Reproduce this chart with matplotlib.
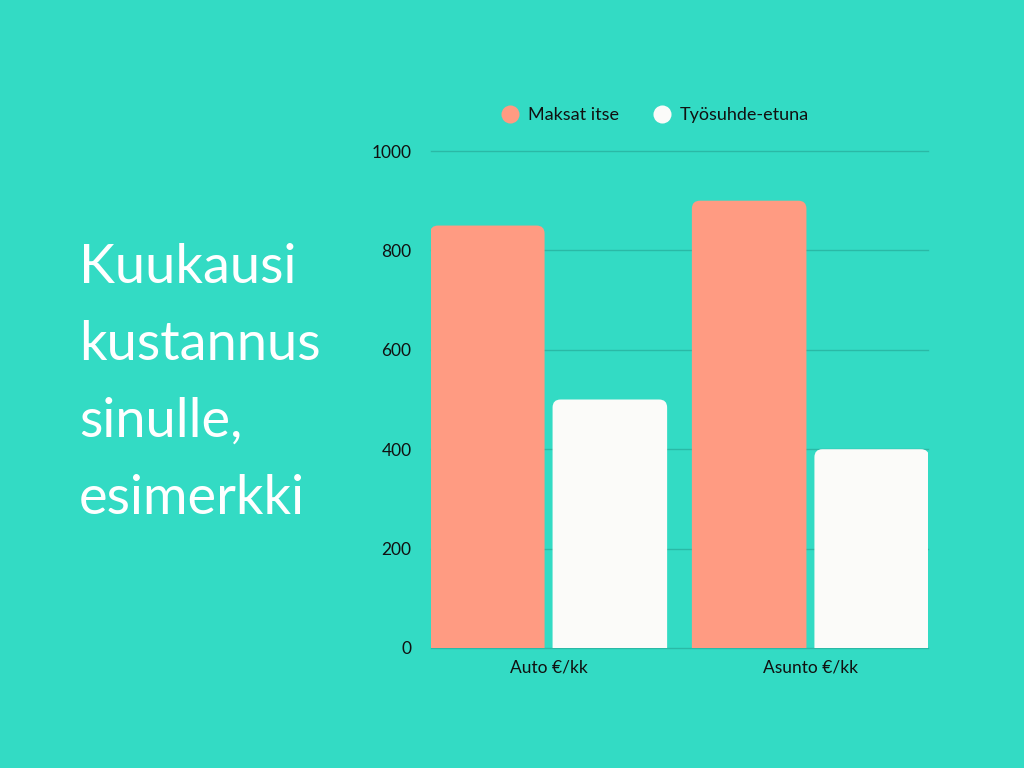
import matplotlib
matplotlib.use("Agg")
import matplotlib.pyplot as plt
from matplotlib.patches import FancyBboxPatch
from matplotlib.lines import Line2D
import numpy as np

categories = ["Auto €/kk", "Asunto €/kk"]
series_names = ["Maksat itse", "Työsuhde-etuna"]
maksat_itse = [850, 900]
tyosuhde_etuna = [500, 400]
yticks = [0, 200, 400, 600, 800, 1000]
title_lines = ["Kuukausi", "kustannus", "sinulle,", "esimerkki"]

BG = "#33DBC4"
SALMON = "#FF9B82"
WHITE = "#FBFBF9"
GRID = "#2AB9A6"

plt.rcParams['font.family'] = ['Lato', 'DejaVu Sans']

fig = plt.figure(figsize=(10.24, 7.68), dpi=100, facecolor=BG)
ax = fig.add_axes([431/1024, 120/768, 497/1024, 497/768])
ax.set_facecolor(BG)

x = np.arange(len(categories))
bw = 0.4375
gap = 0.0305
bars1 = ax.bar(x - (bw + gap)/2, maksat_itse, bw, color=SALMON, zorder=3)
bars2 = ax.bar(x + (bw + gap)/2, tyosuhde_etuna, bw, color=WHITE, zorder=3)

ax.set_xlim(-0.449, 1.449)
ax.set_ylim(0, 1000)

# rounded top corners (bottom corners extend below the axis and are clipped)
fig.canvas.draw()
px_x = ax.transData.transform([(1, 0)])[0][0] - ax.transData.transform([(0, 0)])[0][0]
px_y = ax.transData.transform([(0, 1)])[0][1] - ax.transData.transform([(0, 0)])[0][1]
aspect = px_x / px_y
r_px = 8
ext = 3 * r_px / px_y
for bars in (bars1, bars2):
    for rect in bars:
        rx, ry = rect.get_x(), rect.get_y()
        w, h = rect.get_width(), rect.get_height()
        c = rect.get_facecolor()
        rect.set_visible(False)
        fb = FancyBboxPatch((rx, ry - ext), w, h + ext,
                            boxstyle=f"round,pad=0,rounding_size={r_px/px_x}",
                            mutation_aspect=aspect, fc=c, ec="none", zorder=3)
        ax.add_patch(fb)

ax.set_yticks(yticks)
ax.set_yticklabels([str(v) for v in yticks])
ax.set_xticks(x)
ax.set_xticklabels(categories)
ax.yaxis.grid(True, color=GRID, linewidth=1, zorder=0)
ax.set_axisbelow(True)
for gl in ax.get_ygridlines():
    gl.set_clip_on(False)
for s in ax.spines.values():
    s.set_visible(False)
ax.tick_params(axis='both', length=0, labelsize=12.5, colors="#111111")
ax.tick_params(axis='y', pad=14)
ax.tick_params(axis='x', pad=8)

handles = [Line2D([], [], marker='o', linestyle='none', markersize=13,
                  markerfacecolor=SALMON, markeredgecolor='none'),
           Line2D([], [], marker='o', linestyle='none', markersize=13,
                  markerfacecolor=WHITE, markeredgecolor='none')]
fig.legend(handles, series_names, loc='center', bbox_to_anchor=(655/1024, 1 - 115/768),
           ncol=2, frameon=False, fontsize=13, handlelength=1.0, handletextpad=0.5,
           columnspacing=1.9, labelcolor="#111111")

ys = [283, 360, 437, 514]
for line, yy in zip(title_lines, ys):
    fig.text(79/1024, 1 - yy/768, line, color="white", fontsize=39,
             ha='left', va='baseline', fontweight='normal')

fig.savefig("out.png", dpi=100, facecolor=BG)
